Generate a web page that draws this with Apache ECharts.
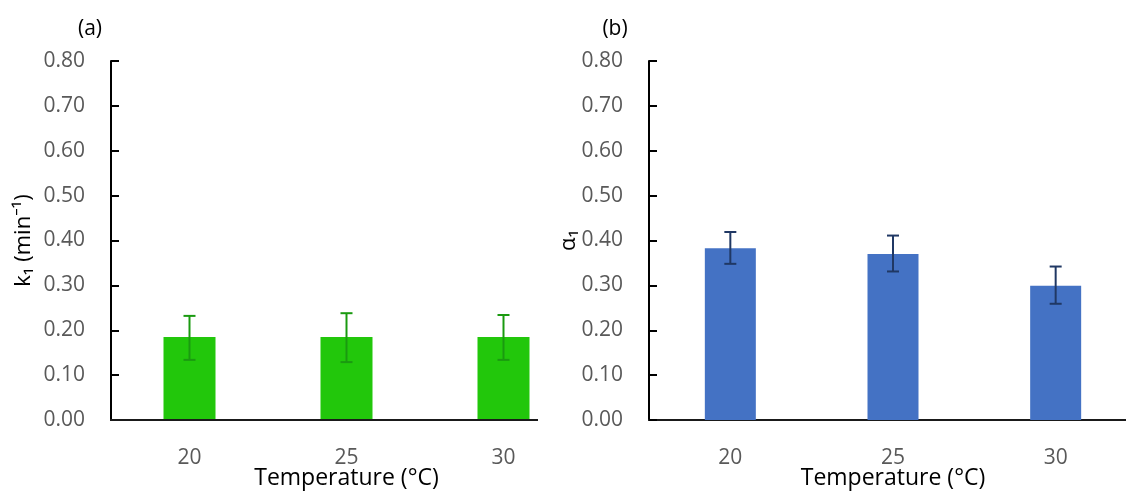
<!DOCTYPE html>
<html>
<head>
<meta charset="utf-8">
<script src="https://cdn.jsdelivr.net/npm/echarts@6/dist/echarts.min.js"></script>
<style>
html,body{margin:0;padding:0;background:#fff;}
#c{width:1126px;height:491px;}
</style>
</head>
<body>
<div id="c"></div>
<script>
var categories = ['20', '25', '30'];
var k1Values = [0.185, 0.185, 0.185];
var k1Low = [0.134, 0.129, 0.134];
var k1High = [0.232, 0.238, 0.234];
var alphaValues = [0.383, 0.370, 0.299];
var alphaLow = [0.348, 0.331, 0.259];
var alphaHigh = [0.419, 0.411, 0.342];

var FONT = '"Open Sans", "Noto Sans", sans-serif';
var chart = echarts.init(document.getElementById('c'), null, {renderer: 'canvas'});

function errData(low, high) {
  return categories.map(function (c, i) { return [i, low[i], high[i]]; });
}
function errRender(color) {
  return function (params, api) {
    var x = api.value(0);
    var lo = api.coord([x, api.value(1)]);
    var hi = api.coord([x, api.value(2)]);
    var hw = 6;
    var st = {stroke: color, lineWidth: 2};
    return {
      type: 'group',
      children: [
        {type: 'line', shape: {x1: lo[0], y1: lo[1], x2: hi[0], y2: hi[1]}, style: st},
        {type: 'line', shape: {x1: lo[0] - hw, y1: lo[1], x2: lo[0] + hw, y2: lo[1]}, style: st},
        {type: 'line', shape: {x1: hi[0] - hw, y1: hi[1], x2: hi[0] + hw, y2: hi[1]}, style: st}
      ]
    };
  };
}

function yAxis(gridIndex, name, nameGap) {
  return {
    type: 'value', gridIndex: gridIndex, min: 0, max: 0.8, interval: 0.1,
    name: name, nameLocation: 'middle', nameGap: nameGap, nameRotate: 90,
    nameMoveOverlap: false,
    nameTextStyle: {color: '#000', fontSize: 22, fontFamily: FONT},
    axisLine: {show: true, lineStyle: {color: '#000', width: 2}},
    axisTick: {show: true, inside: true, length: 8, lineStyle: {color: '#000', width: 2}},
    splitLine: {show: false},
    axisLabel: {color: '#595959', fontSize: 21, fontFamily: FONT, margin: 26,
      formatter: function (v) { return v.toFixed(2); }}
  };
}
function xAxis(gridIndex, showLine) {
  return {
    type: 'category', gridIndex: gridIndex, data: categories,
    name: 'Temperature (°C)', nameLocation: 'middle', nameGap: 47,
    nameMoveOverlap: false,
    nameTextStyle: {color: '#000', fontSize: 23, fontFamily: FONT},
    axisLine: {show: showLine, lineStyle: {color: '#1a1a1a', width: 2}},
    axisTick: {show: false},
    axisLabel: {color: '#595959', fontSize: 21, fontFamily: FONT, margin: 28}
  };
}

chart.setOption({
  animation: false,
  title: [
    {text: '(a)', left: 85, top: 14, textAlign: 'center', textStyle: {color: '#000', fontSize: 21, fontWeight: 'normal', fontFamily: FONT}},
    {text: '(b)', left: 610, top: 14, textAlign: 'center', textStyle: {color: '#000', fontSize: 21, fontWeight: 'normal', fontFamily: FONT}}
  ],
  grid: [
    {left: 111, top: 61, width: 471, height: 359, containLabel: false, outerBoundsMode: 'none'},
    {left: 649, top: 61, width: 488, height: 359, containLabel: false, outerBoundsMode: 'none'}
  ],
  graphic: [
    {type: 'line', shape: {x1: 110, y1: 420, x2: 538, y2: 420}, style: {stroke: '#1a1a1a', lineWidth: 2}, z: 10}
  ],
  xAxis: [xAxis(0, false), xAxis(1, true)],
  yAxis: [yAxis(0, 'k\u2081 (min\u207B\u00B9)', 76), yAxis(1, '\u03B1\u2081', 69)],
  series: [
    {type: 'bar', xAxisIndex: 0, yAxisIndex: 0, data: k1Values, barWidth: 52,
      itemStyle: {color: '#22C70B'}},
    {type: 'custom', xAxisIndex: 0, yAxisIndex: 0, data: errData(k1Low, k1High),
      renderItem: errRender('#1A9A10'), z: 5},
    {type: 'bar', xAxisIndex: 1, yAxisIndex: 1, data: alphaValues, barWidth: 51,
      itemStyle: {color: '#4472C4'}},
    {type: 'custom', xAxisIndex: 1, yAxisIndex: 1, data: errData(alphaLow, alphaHigh),
      renderItem: errRender('#203864'), z: 5}
  ]
});
</script>
</body>
</html>
